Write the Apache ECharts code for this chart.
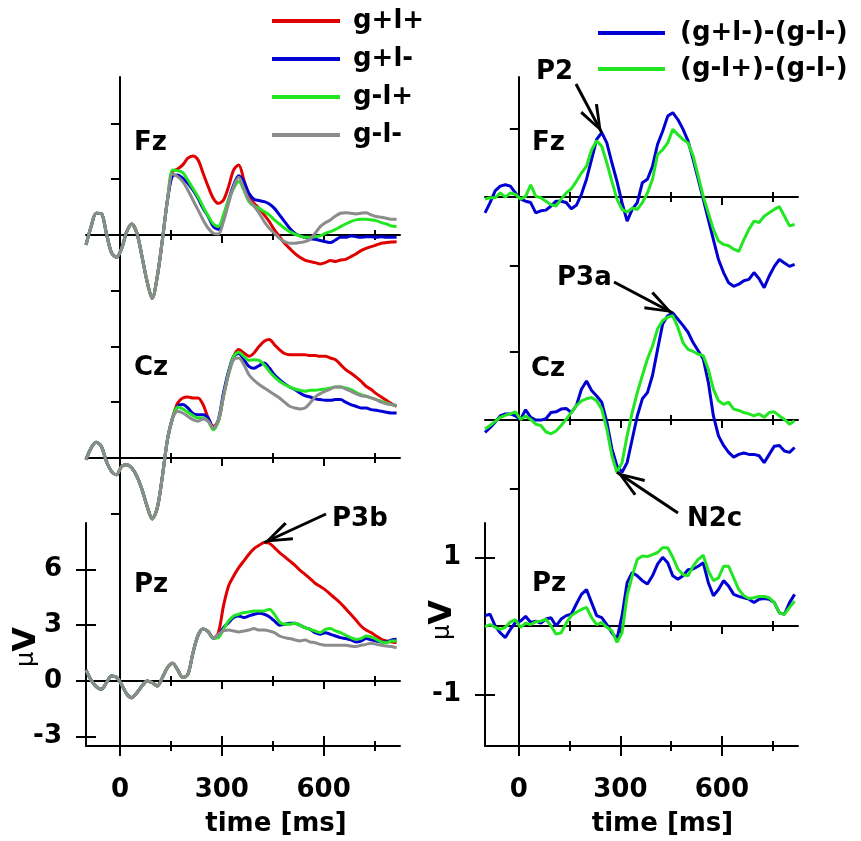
<!DOCTYPE html>
<html>
<head>
<meta charset="utf-8">
<title>ERP waveforms</title>
<script src="https://cdn.jsdelivr.net/npm/echarts@6.0.0/dist/echarts.min.js"></script>
<style>
  html, body { margin: 0; padding: 0; background: #fff; }
  #chart { width: 861px; height: 841px; }
</style>
</head>
<body>
<div id="chart"></div>
<script>
// Sample times in ms, shared by every waveform
const times = [-100,-85,-70,-55,-40,-25,-10,5,20,35,50,65,80,95,110,125,140,155,170,185,200,215,230,245,260,275,290,305,320,335,350,365,380,395,410,425,440,455,470,485,500,515,530,545,560,575,590,605,620,635,650,665,680,695,710,725,740,755,770,785,800,815];

const condNames = ['g+l+', 'g+l-', 'g-l+', 'g-l-'];
const condColors = ['#e00000', '#0000d2', '#22e622', '#8c8c8c'];
const diffNames = ['(g+l-)-(g-l-)', '(g-l+)-(g-l-)'];
const diffColors = ['#0000d2', '#22e622'];

// Fz grand averages (µV); the four conditions coincide until 140 ms
const fzEarly = [-0.54,0.45,1.17,1.15,0.09,-0.95,-1.2,-0.72,0.18,0.59,0.09,-1.17,-2.51,-3.41,-2.24,-0.27,1.88];
const fzGpLp = fzEarly.concat([3.4,3.55,3.77,4.13,4.25,4.04,3.32,2.6,1.97,1.7,1.88,2.6,3.5,3.77,2.96,2.06,1.7,1.43,1.08,0.72,0.27,-0.09,-0.45,-0.72,-0.99,-1.2,-1.35,-1.43,-1.49,-1.56,-1.49,-1.38,-1.43,-1.35,-1.31,-1.17,-1.02,-0.84,-0.72,-0.63,-0.54,-0.45,-0.41,-0.38,-0.36]);
const fzGpLm = fzEarly.concat([3.18,3.23,3.05,2.78,2.42,1.97,1.43,0.99,0.45,0.3,0.99,1.88,2.69,3.18,2.87,2.24,1.92,1.85,1.79,1.67,1.43,1.08,0.72,0.36,0.09,-0.05,-0.13,-0.2,-0.23,-0.3,-0.36,-0.41,-0.27,-0.13,-0.13,-0.05,-0.09,-0.13,-0.09,-0.09,-0.13,-0.09,-0.13,-0.13,-0.13]);
const fzGmLp = fzEarly.concat([3.5,3.46,3.35,2.96,2.51,2.06,1.52,1.02,0.59,0.45,1.08,1.88,2.51,2.87,2.42,1.79,1.56,1.43,1.26,1.08,0.81,0.59,0.36,0.18,0.05,-0.05,-0.13,-0.13,-0.09,-0.05,0.09,0.18,0.3,0.45,0.59,0.72,0.81,0.84,0.84,0.81,0.77,0.66,0.59,0.48,0.45]);
const fzGmLm = fzEarly.concat([3.28,3.14,2.87,2.42,1.88,1.35,0.81,0.36,0.09,0.05,0.72,1.7,2.6,3.1,2.51,1.88,1.56,1.17,0.72,0.36,0.09,-0.18,-0.36,-0.45,-0.45,-0.41,-0.36,-0.23,0.09,0.45,0.66,0.81,1.02,1.17,1.2,1.17,1.13,1.17,1.2,1.08,0.99,0.95,0.9,0.84,0.84]);

// Cz grand averages (µV); shared until 155 ms
const czEarly = [-0.09,0.54,0.84,0.63,-0.18,-0.72,-0.9,-0.45,-0.36,-0.54,-0.99,-1.7,-2.6,-3.28,-2.69,-0.99,0.99,2.15];
const czGpLp = czEarly.concat([2.96,3.23,3.28,3.23,3.23,2.87,2.15,1.7,1.97,3.32,4.57,5.47,5.83,5.65,5.47,5.65,6.01,6.28,6.37,6.1,5.83,5.62,5.56,5.56,5.56,5.56,5.51,5.51,5.47,5.47,5.38,5.29,5.02,4.75,4.57,4.36,4.13,3.86,3.68,3.46,3.28,3.1,2.92,2.78]);
const czGpLm = czEarly.concat([2.78,2.87,2.69,2.39,2.33,2.33,2.15,1.56,2.06,3.5,4.66,5.47,5.62,5.29,4.93,4.83,4.97,5.11,4.84,4.48,4.22,4.0,3.82,3.68,3.5,3.35,3.28,3.18,3.14,3.1,3.1,3.14,3.14,3.0,2.87,2.78,2.69,2.69,2.6,2.57,2.51,2.46,2.42,2.42]);
const czGmLp = czEarly.concat([2.74,2.64,2.46,2.28,2.15,2.15,1.97,1.52,1.97,3.32,4.57,5.47,5.69,5.47,5.25,5.29,5.25,5.02,4.66,4.36,4.13,3.95,3.82,3.71,3.64,3.59,3.64,3.64,3.68,3.71,3.77,3.82,3.82,3.77,3.68,3.53,3.41,3.32,3.23,3.14,3.05,2.96,2.87,2.82]);
const czGmLm = czEarly.concat([2.51,2.42,2.24,2.06,1.97,2.1,1.97,1.61,2.06,3.32,4.48,5.29,5.38,5.02,4.48,4.18,3.95,3.77,3.59,3.41,3.23,3.0,2.78,2.69,2.64,2.69,2.96,3.28,3.46,3.59,3.71,3.82,3.82,3.71,3.59,3.46,3.35,3.32,3.23,3.14,3.0,2.92,2.87,2.82]);

// Pz grand averages (µV); shared until 275 ms
const pzEarly = [0.6,0.05,-0.3,-0.45,-0.1,0.27,0.2,-0.2,-0.7,-0.9,-0.63,-0.27,0.0,-0.09,-0.27,0.18,0.72,0.95,0.6,0.18,0.35,1.5,2.45,2.8,2.65,2.3];
const pzGpLp = pzEarly.concat([2.6,4.04,5.11,5.65,6.1,6.46,6.82,7.12,7.3,7.45,7.41,7.18,6.91,6.69,6.46,6.23,5.97,5.74,5.51,5.26,5.08,4.9,4.66,4.43,4.18,3.89,3.59,3.28,2.96,2.74,2.6,2.42,2.24,2.15,2.1,2.06]);
const pzGpLm = pzEarly.concat([2.42,2.87,3.14,3.41,3.5,3.41,3.5,3.59,3.64,3.59,3.46,3.23,3.0,3.05,3.1,3.1,3.0,2.87,2.78,2.6,2.51,2.6,2.51,2.42,2.33,2.28,2.21,2.1,2.15,2.28,2.21,2.15,2.1,2.1,2.21,2.24]);
const pzGmLp = pzEarly.concat([2.33,2.78,3.23,3.5,3.59,3.68,3.71,3.77,3.77,3.77,3.86,3.59,3.18,3.05,3.05,3.1,3.0,2.87,2.78,2.69,2.6,2.78,2.82,2.69,2.6,2.46,2.33,2.24,2.28,2.42,2.37,2.24,2.1,2.06,2.15,2.15]);
const pzGmLm = pzEarly.concat([2.51,2.69,2.74,2.69,2.64,2.69,2.74,2.82,2.74,2.74,2.69,2.6,2.42,2.33,2.28,2.21,2.15,2.21,2.1,2.06,1.97,1.92,1.92,1.92,1.92,1.92,1.88,1.85,1.92,1.97,2.03,1.97,1.92,1.88,1.85,1.79]);

// Difference waves (µV)
const fzDiffGain = [-0.23,-0.08,0.09,0.16,0.18,0.16,0.06,-0.03,-0.06,-0.08,-0.23,-0.2,-0.19,-0.13,-0.06,-0.06,-0.08,-0.17,-0.12,0.04,0.26,0.55,0.84,0.94,0.79,0.5,0.23,-0.08,-0.35,-0.18,-0.08,0.21,0.26,0.45,0.77,0.96,1.18,1.23,1.13,0.99,0.82,0.55,0.26,-0.03,-0.33,-0.62,-0.91,-1.1,-1.25,-1.3,-1.27,-1.22,-1.2,-1.1,-1.19,-1.32,-1.15,-1.01,-0.91,-0.96,-1.01,-0.98];
const fzDiffLoss = [-0.03,-0.01,-0.01,0.06,0.0,0.06,0.04,-0.03,0.01,0.18,0.01,-0.01,-0.06,-0.11,-0.13,-0.03,0.06,0.12,0.23,0.35,0.45,0.69,0.82,0.74,0.5,0.23,-0.03,-0.18,-0.22,-0.16,-0.18,-0.08,0.06,0.26,0.62,0.69,0.79,0.99,0.91,0.84,0.79,0.6,0.31,0.01,-0.23,-0.47,-0.64,-0.69,-0.71,-0.76,-0.79,-0.62,-0.47,-0.35,-0.37,-0.28,-0.23,-0.18,-0.14,-0.28,-0.42,-0.4];
const czDiffGain = [-0.18,-0.11,-0.03,0.06,0.09,0.09,0.06,0.01,0.15,0.04,0.0,0.0,0.02,0.11,0.12,0.16,0.17,0.11,0.21,0.45,0.57,0.43,0.35,0.26,-0.03,-0.42,-0.67,-0.76,-0.62,-0.28,0.06,0.31,0.4,0.65,1.03,1.4,1.52,1.56,1.47,1.38,1.28,1.13,1.01,0.89,0.55,0.06,-0.23,-0.37,-0.47,-0.54,-0.5,-0.48,-0.5,-0.5,-0.52,-0.62,-0.5,-0.38,-0.37,-0.45,-0.47,-0.4];
const czDiffLoss = [-0.13,-0.08,-0.02,0.04,0.07,0.09,0.12,0.01,0.06,0.01,-0.06,-0.08,-0.17,-0.2,-0.16,-0.08,0.01,0.11,0.21,0.28,0.31,0.33,0.28,0.16,-0.13,-0.52,-0.76,-0.62,-0.23,0.11,0.4,0.65,0.89,1.08,1.33,1.45,1.5,1.52,1.35,1.13,1.03,1.0,0.96,0.94,0.74,0.45,0.28,0.23,0.26,0.16,0.14,0.11,0.09,0.06,0.09,0.04,0.11,0.12,0.06,0.01,-0.06,-0.01];
const pzDiffGain = [0.15,0.17,0.0,-0.1,-0.17,-0.05,0.05,0.07,0.14,0.05,0.07,0.04,0.1,0.12,0.0,0.1,0.15,0.17,0.32,0.46,0.53,0.34,0.15,0.12,0.02,-0.1,-0.19,0.15,0.63,0.78,0.73,0.66,0.61,0.73,0.9,1.0,0.92,0.73,0.68,0.73,0.82,0.83,0.87,0.92,0.63,0.44,0.53,0.66,0.58,0.46,0.43,0.41,0.39,0.34,0.39,0.4,0.39,0.34,0.19,0.17,0.34,0.46];
const pzDiffLoss = [-0.01,0.02,-0.02,-0.05,-0.02,0.06,0.09,-0.02,0.04,0.02,0.06,0.07,0.1,0.0,-0.12,-0.1,0.04,0.15,0.2,0.24,0.27,0.12,0.02,0.05,-0.02,-0.07,-0.24,-0.1,0.44,0.73,0.97,1.02,1.01,1.04,1.07,1.14,1.14,1.0,0.83,0.75,0.73,0.87,0.97,1.03,0.8,0.66,0.7,0.87,0.87,0.7,0.53,0.44,0.4,0.41,0.43,0.43,0.41,0.34,0.19,0.17,0.27,0.36];

// Axis tick positions
const timeRange = [-100, 825];
const majorBaseTicks = [300, 600];
const minorBaseTicks = [150, 450, 750];
const majorTimeTicks = [0, 300, 600];
const minorTimeTicks = [150, 450, 750];

const FONT = 'DejaVu Sans';
const TXT = { fontFamily: FONT, fontWeight: 'bold', fontSize: 26, color: '#000' };

const columns = [{ left: 86, width: 314 }, { left: 485, width: 313 }];
const rowTops = [77, 300, 523];
const ROW_H = 223;

const panels = [
  { col: 0, row: 0, range: [-3.5, 8.5], zeroTicks: [-3, 3, 6], names: condNames, colors: condColors, data: [fzGpLp, fzGpLm, fzGmLp, fzGmLm] },
  { col: 0, row: 1, range: [-3.5, 8.5], zeroTicks: [-3, 3, 6], names: condNames, colors: condColors, data: [czGpLp, czGpLm, czGmLp, czGmLm] },
  { col: 0, row: 2, range: [-3.5, 8.5], zeroTicks: [], leftTicks: [-3, 0, 3, 6], names: condNames, colors: condColors, data: [pzGpLp, pzGpLm, pzGmLp, pzGmLm],
    unitGap: 43, unitPad: [0, 25, 0, 0], timePad: [0, 0, 0, 66] },
  { col: 1, row: 0, range: [-1.5, 1.75], zeroTicks: [-1, 1], names: diffNames, colors: diffColors, data: [fzDiffGain, fzDiffLoss] },
  { col: 1, row: 1, range: [-1.5, 1.75], zeroTicks: [-1, 1], names: diffNames, colors: diffColors, data: [czDiffGain, czDiffLoss] },
  { col: 1, row: 2, range: [-1.75, 1.5], zeroTicks: [], leftTicks: [-1, 1], names: diffNames, colors: diffColors, data: [pzDiffGain, pzDiffLoss],
    unitGap: 26, unitPad: [0, 0, 0, 29], timePad: [0, 0, 0, 42] },
];

// Electrode captions and component labels
const captions = [
  { text: 'Fz', left: 134, top: 130 }, { text: 'Cz', left: 134, top: 355 }, { text: 'Pz', left: 134, top: 572 },
  { text: 'Fz', left: 532, top: 130 }, { text: 'Cz', left: 531, top: 356 }, { text: 'Pz', left: 532, top: 571 },
];
const components = [
  { text: 'P3b', panel: 2, wave: 0, from: 300, to: 600, sign: 1, tail: [326, 514], left: 332, top: 506 },
  { text: 'P2', panel: 3, wave: 0, from: 150, to: 300, sign: 1, tail: [576, 84], left: 536, top: 59 },
  { text: 'P3a', panel: 4, wave: 0, from: 350, to: 550, sign: 1, tail: [614, 282], left: 557, top: 265 },
  { text: 'N2c', panel: 4, wave: 1, from: 250, to: 350, sign: -1, tail: [678, 513], left: 687, top: 506 },
];

function axis(gridIndex, range, o) {
  const hasTicks = o.ticks && o.ticks.length > 0;
  const a = {
    type: 'value', gridIndex, min: range[0], max: range[1], position: o.position, silent: true,
    splitLine: { show: false },
    axisLine: { show: !!o.line, onZero: o.onZero != null, lineStyle: { color: '#000', width: 2 } },
    axisTick: hasTicks
      ? { show: true, customValues: o.ticks, length: o.len, inside: !!o.inside, lineStyle: { color: '#000', width: 2 } }
      : { show: false },
    axisLabel: o.labels ? Object.assign({ show: true, customValues: o.labels, margin: o.margin }, TXT) : { show: false },
  };
  if (o.onZero != null) a.axisLine.onZeroAxisIndex = o.onZero;
  if (o.name) {
    Object.assign(a, { name: o.name, nameLocation: 'middle', nameGap: o.nameGap, nameRotate: o.nameRotate,
      nameMoveOverlap: false, nameTextStyle: o.nameStyle });
  }
  return a;
}

function peakOf(vals, from, to, sign) {
  let best = -1;
  times.forEach((t, i) => {
    if (t >= from && t <= to && (best < 0 || sign * vals[i] > sign * vals[best])) best = i;
  });
  return [times[best], vals[best]];
}

const grids = [], xAxes = [], yAxes = [], series = [];
const panelSeries = [];

panels.forEach((p, g) => {
  grids.push({ left: columns[p.col].left, width: columns[p.col].width, top: rowTops[p.row], height: ROW_H, outerBoundsMode: 'none' });
  const xB = xAxes.length, yT = yAxes.length;
  // zero-voltage baseline; ticks cross the line, longer at 300 and 600 ms
  xAxes.push(axis(g, timeRange, { onZero: yT, line: true, ticks: majorBaseTicks, len: 8 }));
  xAxes.push(axis(g, timeRange, { onZero: yT, ticks: majorBaseTicks, len: 8, inside: true }));
  xAxes.push(axis(g, timeRange, { onZero: yT, ticks: minorBaseTicks, len: 5 }));
  xAxes.push(axis(g, timeRange, { onZero: yT, ticks: minorBaseTicks, len: 5, inside: true }));
  // stimulus-onset line with crossing ticks
  yAxes.push(axis(g, p.range, { onZero: xB, line: true, ticks: p.zeroTicks, len: 9 }));
  yAxes.push(axis(g, p.range, { onZero: xB, ticks: p.zeroTicks, len: 9, inside: true }));
  if (p.leftTicks) {
    xAxes.push(axis(g, timeRange, { position: 'bottom', line: true, ticks: majorTimeTicks, len: 10, labels: majorTimeTicks, margin: 31,
      name: 'time [ms]', nameGap: 65, nameStyle: Object.assign({ padding: p.timePad }, TXT) }));
    xAxes.push(axis(g, timeRange, { position: 'bottom', ticks: majorTimeTicks, len: 10, inside: true }));
    xAxes.push(axis(g, timeRange, { position: 'bottom', ticks: minorTimeTicks, len: 5 }));
    xAxes.push(axis(g, timeRange, { position: 'bottom', ticks: minorTimeTicks, len: 5, inside: true }));
    yAxes.push(axis(g, p.range, { position: 'left', line: true, ticks: p.leftTicks, len: 10, labels: p.leftTicks, margin: 24,
      name: '{mu|μ}{v|V}', nameGap: p.unitGap, nameRotate: 90,
      nameStyle: { padding: p.unitPad, rich: {
        mu: { fontFamily: FONT, fontSize: 24, color: '#000' },
        v: { fontFamily: FONT, fontSize: 32, fontWeight: 'bold', color: '#000' } } } }));
    yAxes.push(axis(g, p.range, { position: 'left', ticks: p.leftTicks, len: 10, inside: true }));
  }
  panelSeries.push([]);
  p.data.forEach((vals, j) => {
    panelSeries[g].push(series.length);
    series.push({
      type: 'line', name: p.names[j], xAxisIndex: xB, yAxisIndex: yT,
      data: times.map((t, i) => [t, vals[i]]),
      symbol: 'none', showSymbol: false, clip: false, smooth: p.col === 0 ? 0.3 : false,
      color: p.colors[j], itemStyle: { color: p.colors[j] },
      lineStyle: { width: 3, color: p.colors[j] },
      z: 3 + j, silent: true, animation: false,
    });
  });
});

// Arrows pointing at the named components.
// The open arrowhead has its tip at the origin; a zero-area dot mirrors the
// arms so the symbol's bounding box is centred on the tip.
const ARROW_HEAD = 'path://M0 0 L10 27 L7.2 28.2 L0 7.5 L-7.2 28.2 L-10 27 Z M0 -28.2 L0.001 -28.2 L0 -28.199 Z';
components.forEach(c => {
  const s = series[panelSeries[c.panel][c.wave]];
  const tip = peakOf(panels[c.panel].data[c.wave], c.from, c.to, c.sign);
  const prev = s.markLine ? s.markLine.data : [];
  s.markLine = {
    silent: true, animation: false,
    symbol: ['none', ARROW_HEAD],
    symbolSize: [20, 56.4],
    lineStyle: { color: '#000', width: 3, type: 'solid' },
    label: { show: false },
    data: prev.concat([[{ x: c.tail[0], y: c.tail[1] }, { coord: tip }]]),
  };
});

const titles = captions.concat(components).map(c => ({
  text: c.text, left: c.left, top: c.top, padding: 0, textStyle: Object.assign({}, TXT),
}));

const legendText = Object.assign({}, TXT);
const option = {
  animation: false,
  backgroundColor: '#fff',
  title: titles,
  legend: [
    { data: condNames, orient: 'vertical', left: 272, top: 8, padding: 0, itemWidth: 68, itemHeight: 4, itemGap: 12,
      icon: 'rect', selectedMode: false, textStyle: Object.assign({ padding: [0, 0, 0, 8] }, legendText) },
    { data: diffNames, orient: 'vertical', left: 598, top: 20, padding: 0, itemWidth: 67, itemHeight: 4, itemGap: 10,
      icon: 'rect', selectedMode: false, textStyle: Object.assign({ padding: [0, 0, 0, 10] }, legendText) },
  ],
  grid: grids,
  xAxis: xAxes,
  yAxis: yAxes,
  series: series,
};

const chart = echarts.init(document.getElementById('chart'), null, { renderer: 'canvas' });
chart.setOption(option);
</script>
</body>
</html>
